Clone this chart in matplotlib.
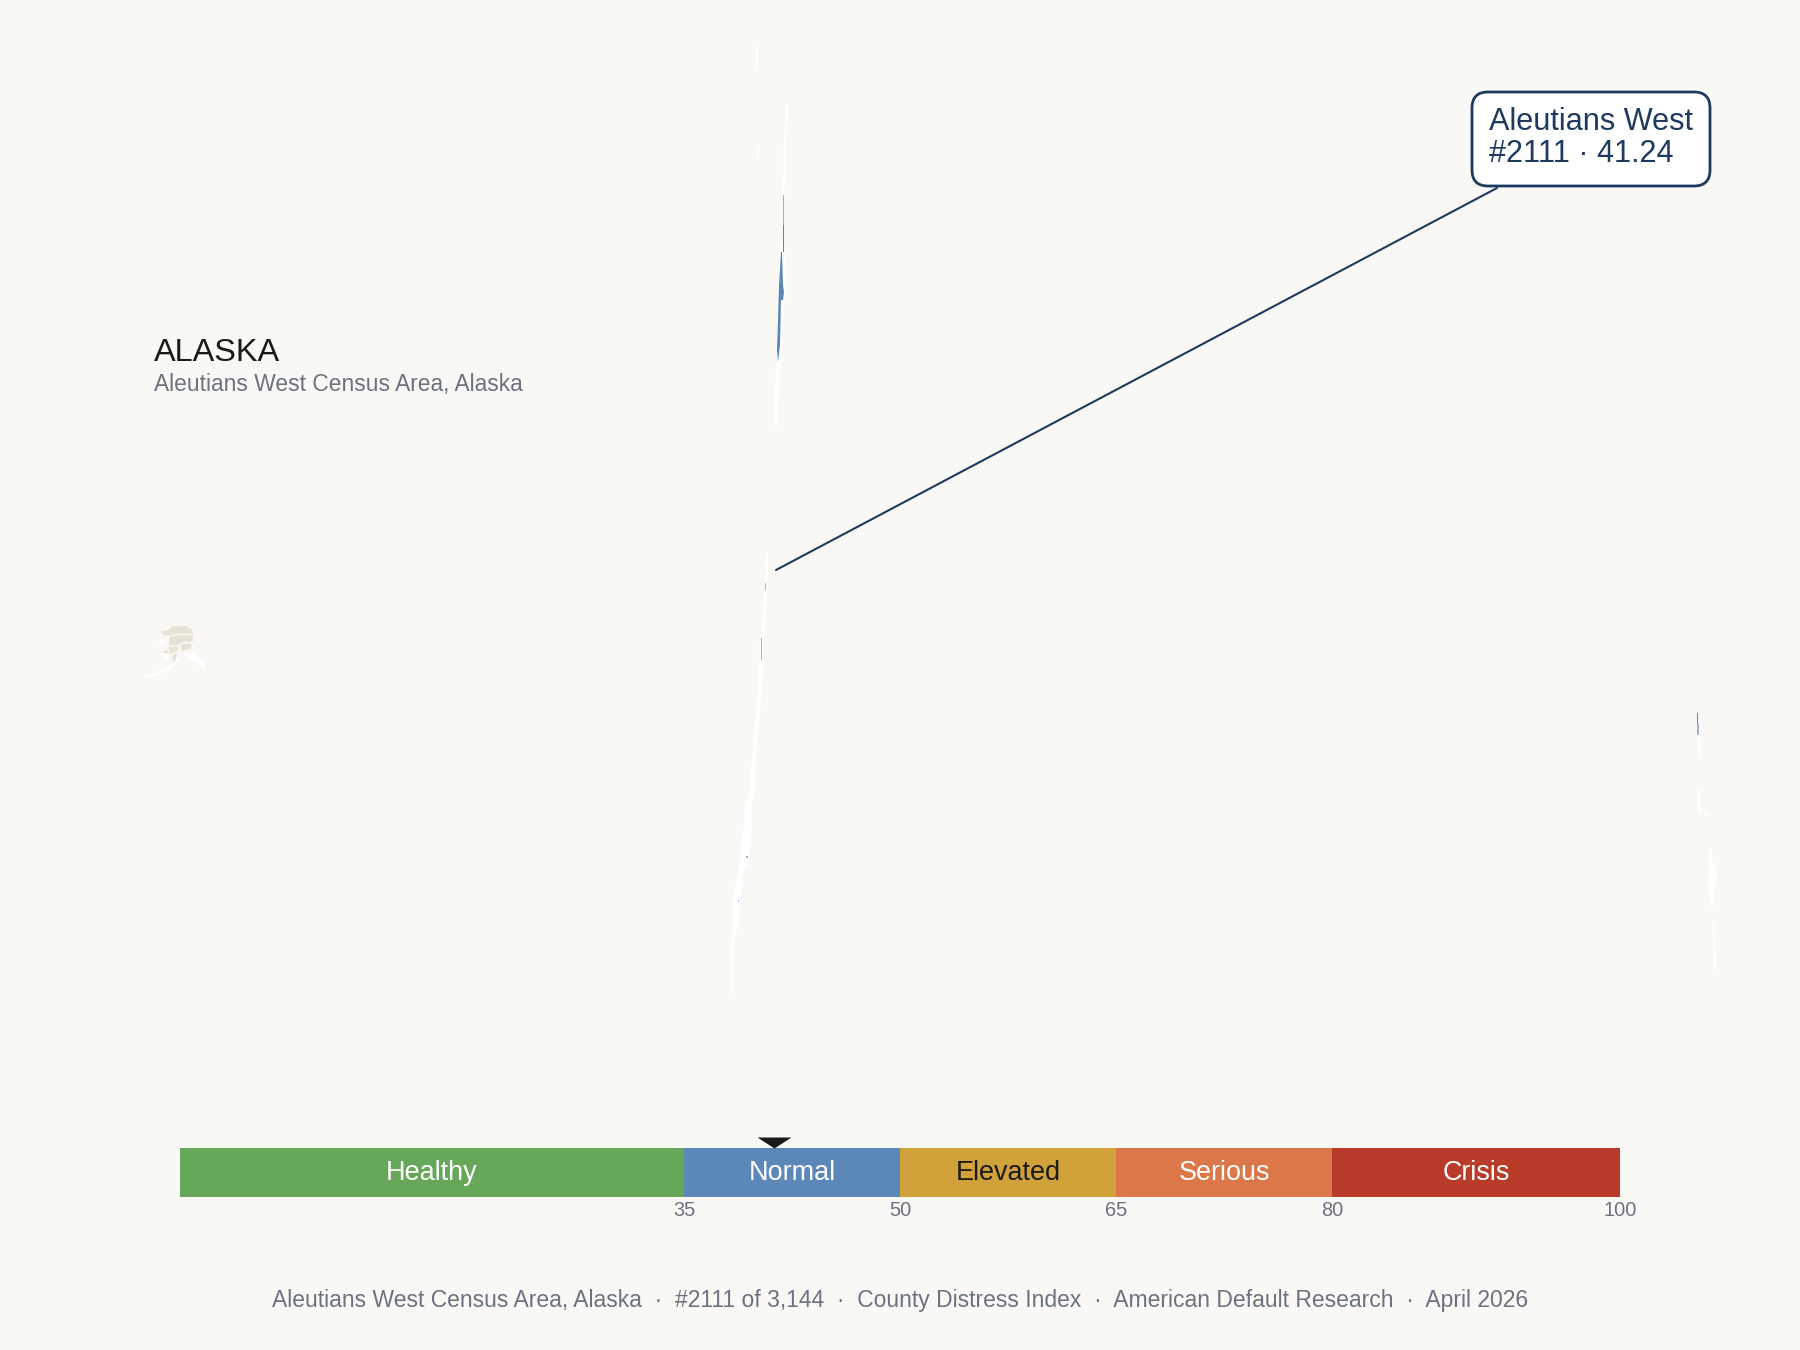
import matplotlib
matplotlib.use('agg')
import matplotlib.pyplot as plt
from matplotlib.patches import FancyBboxPatch
from matplotlib.path import Path

plt.rcParams['font.family'] = ['Liberation Sans', 'DejaVu Sans']

BG = '#FAF8F5'
NAVY = '#1E3A5F'
GRAY = '#6B7280'
INK = '#1A1A1A'
PX = 100 / 72  # px to pt helper

# index bands
band_names = ['Healthy', 'Normal', 'Elevated', 'Serious', 'Crisis']
band_edges = [0, 35, 50, 65, 80, 100]
band_colors = ['#67A75A', '#5B88B8', '#D2A23A', '#DB7748', '#B93C2A']
band_text = ['white', 'white', INK, 'white', 'white']
tick_values = [35, 50, 65, 80, 100]
score = 41.24
rank = 2111
total = 3144

# map slivers (pixels)
alaska_parts = [
    [(161, 631), (168, 630), (172, 626), (186, 626), (192, 629), (193, 634), (176, 634), (170, 636), (163, 635)],
    [(169, 637), (178, 635), (193, 635), (193, 642), (184, 642), (178, 645), (169, 646)],
    [(168, 647), (178, 646), (177, 652), (169, 654)],
    [(181, 644), (191, 643), (192, 648), (186, 650), (181, 652)],
    [(172, 655), (177, 653), (176, 660), (173, 662)],
    [(163, 651), (168, 649), (168, 653), (164, 654)],
]
alaska_white = [
    [(145, 677), (160, 671), (172, 664), (177, 658), (179, 660), (172, 668), (158, 675), (146, 678)],
    [(186, 652), (195, 654), (204, 663), (206, 668), (204, 669), (198, 664), (190, 658), (184, 655)],
    [(159, 640), (164, 639), (165, 643), (160, 642)],
    [(153, 668), (155, 667), (155, 669), (153, 670)],
    [(162, 652), (168, 650), (168, 660), (163, 658)],
]
white_slivers = [
    [(756, 47), (758, 47), (757, 69), (756, 70)],
    [(757, 147), (759, 147), (758, 160), (757, 160)],
    [(786, 105), (788, 105), (785, 170), (784, 195), (783, 195), (784, 150)],
    [(780, 240), (783, 245), (785, 262), (785, 290), (783, 320), (781, 360), (778, 395), (777, 428), (775, 428), (775, 395), (777, 350), (779, 290)],
    [(766, 553), (768, 556), (767, 590), (765, 625), (763, 650), (762, 680), (759, 720), (757, 745), (755, 770), (754, 795), (752, 800), (751, 835), (749, 860), (744, 870), (741, 895), (738, 925), (735, 935), (733, 960), (733, 993), (731, 993), (731, 945), (733, 930), (733, 900), (738, 870), (741, 850), (744, 825), (745, 805), (750, 790), (752, 765), (754, 730), (757, 705), (759, 680), (760, 640), (763, 620), (765, 585)],
    [(1697, 735), (1700, 738), (1701, 758), (1700, 759), (1698, 748)],
    [(1698, 789), (1700, 789), (1700, 813), (1698, 812)],
    [(1705, 811), (1707, 811), (1707, 816), (1705, 816)],
    [(1709, 848), (1711, 848), (1713, 865), (1717, 866), (1716, 888), (1713, 889), (1713, 906), (1711, 906), (1710, 890), (1709, 895), (1708, 880), (1710, 870)],
    [(1713, 922), (1714, 922), (1716, 969), (1714, 969)],
]
blue_slivers = [
    [(781, 252), (782, 252), (783, 285), (784, 292), (783, 300), (781, 300), (780, 345), (778, 362), (777, 350), (778, 320), (779, 285)],
    [(783, 225), (784, 225), (784, 252), (783, 252)],
    [(1697, 713), (1698, 713), (1698, 724), (1697, 724)],
]
pale_slivers = [
    [(783, 195), (784, 195), (784, 225), (783, 225)],
    [(765, 583), (766, 583), (766, 590), (765, 590)],
    [(761, 638), (762, 638), (762, 660), (761, 660)],
    [(746, 856), (748, 856), (748, 858), (746, 858)],
    [(738, 900), (739, 900), (739, 902), (738, 902)],
    [(1697, 724), (1699, 724), (1699, 735), (1697, 735)],
]

fig = plt.figure(figsize=(18, 13.5), dpi=100, facecolor=BG)

# pixel canvas for the map and the texts
ax = fig.add_axes([0, 0, 1, 1])
ax.set_xlim(0, 1800)
ax.set_ylim(1350, 0)
ax.axis('off')

for part in alaska_white:
    ax.fill(*zip(*part), color='white', lw=0.3)
for part in alaska_parts:
    ax.fill(*zip(*part), facecolor='#E8E2D6', edgecolor='white', lw=0.2)
for part in white_slivers:
    ax.fill(*zip(*part), color='white', lw=0.3)
for part in blue_slivers:
    ax.fill(*zip(*part), color='#5B88B8', lw=0)
for part in pale_slivers:
    ax.fill(*zip(*part), color='#5B88B8', alpha=0.6, lw=0)

ax.text(154, 353, 'ALASKA', fontsize=32.5 / PX, color=INK, ha='left', va='center')
ax.text(154, 384, 'Aleutians West Census Area, Alaska', fontsize=22.8 / PX, color=GRAY, ha='left', va='center')

# callout
ax.plot([776, 1497], [570, 188], color=NAVY, lw=1.5, solid_capstyle='round')
box = FancyBboxPatch((1486, 106), 210, 66, boxstyle='round,pad=14,rounding_size=16',
                     facecolor='white', edgecolor=NAVY, lw=2)
ax.add_patch(box)
ax.text(1489, 122, 'Aleutians West', fontsize=30.7 / PX, color=NAVY, ha='left', va='center')
ax.text(1489, 154, f'#{rank} · {score}', fontsize=30.7 / PX, color=NAVY, ha='left', va='center')

ax.text(900, 1301, f'Aleutians West Census Area, Alaska  ·  #{rank} of {total:,}  ·  County Distress Index  ·  American Default Research  ·  April 2026',
        fontsize=22.9 / PX, color=GRAY, ha='center', va='center')

# index bar
ax_bar = fig.add_axes([180 / 1800, 1 - 1197 / 1350, 1440 / 1800, 49 / 1350])
ax_bar.set_xlim(0, 100)
ax_bar.set_ylim(0, 1)
ax_bar.set_facecolor('none')
for s in ax_bar.spines.values():
    s.set_visible(False)
ax_bar.set_yticks([])
ax_bar.set_xticks(tick_values)
ax_bar.tick_params(axis='x', length=0, pad=3, labelsize=20 / PX, labelcolor=GRAY)

for i, name in enumerate(band_names):
    lo, hi = band_edges[i], band_edges[i + 1]
    ax_bar.barh(0.5, hi - lo, left=lo, height=1, color=band_colors[i], lw=0)
    ax_bar.text((lo + hi) / 2, 0.5, name, color=band_text[i], fontsize=27 / PX, ha='center', va='center')

pointer = Path([(-17, 11), (17, 11), (0, 0), (-17, 11)], closed=True)
ax_bar.plot([score], [1.0], marker=pointer, markersize=34 / PX, color=INK, mew=0, clip_on=False, ls='none')

fig.savefig('out.png', dpi=100, facecolor=BG)
